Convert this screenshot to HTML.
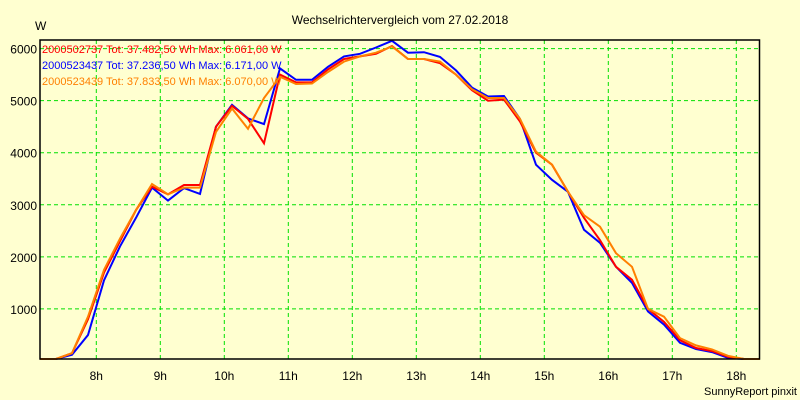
<!DOCTYPE html>
<html><head><meta charset="utf-8"><style>
body{margin:0;background:#ffffd0;}
svg{display:block;font-family:"Liberation Sans",sans-serif;}
</style></head><body>
<svg id="chart" width="800" height="400" xmlns="http://www.w3.org/2000/svg">
<rect width="800" height="400" fill="#ffffd0"/>
<text x="400" y="24" text-anchor="middle" font-size="12">Wechselrichtervergleich vom 27.02.2018</text>
<text x="35" y="30" font-size="12">W</text>
<g id="grid"></g>
<g id="series"></g>
<rect x="40" y="40" width="719.5" height="319" fill="none" stroke="#000" stroke-width="1.5"/>
<g id="labels" font-size="12"></g>
<text x="42" y="53" font-size="11" fill="#ff0000">2000502737 Tot: 37.482,50 Wh Max: 6.061,00 W</text>
<text x="42" y="69" font-size="11" fill="#0000ff">2000523437 Tot: 37.236,50 Wh Max: 6.171,00 W</text>
<text x="42" y="85" font-size="11" fill="#ff8000">2000523439 Tot: 37.833,50 Wh Max: 6.070,00 W</text>
<text x="797" y="395" text-anchor="end" font-size="11">SunnyReport pinxit</text>
</svg>
<script>
const yTicks = [1000, 2000, 3000, 4000, 5000, 6000];
const xTicks = [8, 9, 10, 11, 12, 13, 14, 15, 16, 17, 18];
const tStart = 7.12, tStep = 0.25;
const red = [0,0,150,800,1700,2300,2900,3350,3200,3380,3380,4500,4900,4650,4180,5500,5350,5350,5600,5800,5850,5900,6050,5800,5800,5720,5500,5200,5000,5020,4600,4000,3770,3250,2750,2320,1810,1560,1000,750,400,250,190,80,0,0];
const blue = [0,0,120,500,1550,2200,2750,3330,3080,3320,3210,4500,4920,4660,4550,5620,5400,5400,5650,5850,5900,6020,6150,5920,5930,5840,5580,5250,5080,5090,4650,3770,3480,3250,2520,2270,1810,1500,950,700,350,230,170,60,0,0];
const orange = [0,0,150,850,1750,2350,2900,3400,3200,3330,3330,4400,4850,4460,5050,5460,5320,5330,5550,5750,5850,5920,6040,5800,5800,5750,5500,5220,5050,5050,4650,4020,3770,3250,2800,2580,2070,1810,1000,850,440,300,220,100,0,0];
const xs = t => 96.3 + (t - 8) * 64;
const ys = v => 361 - v * 0.05207;
const NS = "http://www.w3.org/2000/svg";
const grid = document.getElementById('grid');
const labels = document.getElementById('labels');
yTicks.forEach(v => {
  const l = document.createElementNS(NS, 'line');
  l.setAttribute('x1', 40); l.setAttribute('x2', 760);
  l.setAttribute('y1', ys(v)); l.setAttribute('y2', ys(v));
  l.setAttribute('stroke', '#00e000'); l.setAttribute('stroke-dasharray', '4,3');
  
  
  grid.appendChild(l);
  const t = document.createElementNS(NS, 'text');
  t.setAttribute('x', 37); t.setAttribute('y', ys(v) + 5);
  t.setAttribute('text-anchor', 'end');
  t.textContent = v;
  
  
  labels.appendChild(t);
});
xTicks.forEach(h => {
  const l = document.createElementNS(NS, 'line');
  l.setAttribute('x1', xs(h)); l.setAttribute('x2', xs(h));
  l.setAttribute('y1', 40); l.setAttribute('y2', 359);
  l.setAttribute('stroke', '#00e000'); l.setAttribute('stroke-dasharray', '4,3');
  
  
  grid.appendChild(l);
  const t = document.createElementNS(NS, 'text');
  t.setAttribute('x', xs(h)); t.setAttribute('y', 380);
  t.setAttribute('text-anchor', 'middle');
  t.textContent = h + 'h';
  
  
  labels.appendChild(t);
});
const seriesG = document.getElementById('series');
[[orange,'#ff8000','series-2000523439'],[blue,'#0000ff','series-2000523437'],[red,'#ff0000','series-2000502737']].forEach(([d,c,n]) => {
  const p = document.createElementNS(NS, 'polyline');
  p.setAttribute('points', d.map((v,i) => xs(tStart + i*tStep).toFixed(1) + ',' + Math.min(359, ys(v)).toFixed(1)).join(' '));
  p.setAttribute('fill', 'none'); p.setAttribute('stroke', c); p.setAttribute('stroke-width', 2);
  
  
  seriesG.appendChild(p);
});
seriesG.appendChild(seriesG.firstChild);
</script>
</body></html>
